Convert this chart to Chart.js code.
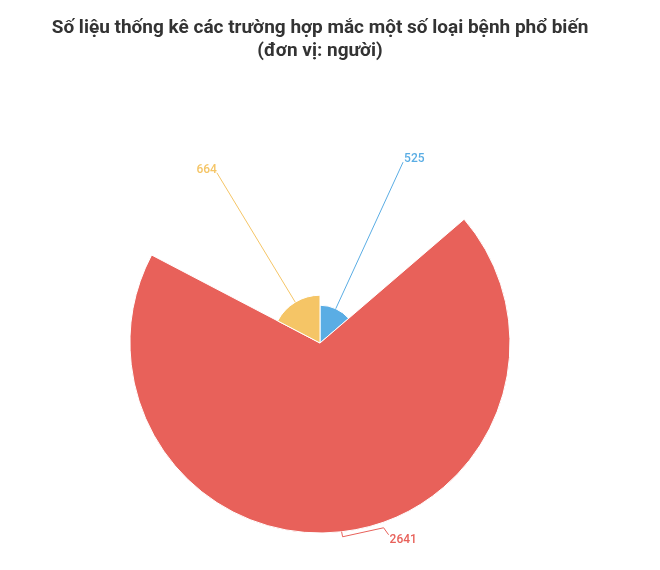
<!DOCTYPE html>
<html>
<head>
<meta charset="utf-8">
<script src="https://cdn.jsdelivr.net/npm/chart.js@4"></script>
<style>
  html, body { margin: 0; padding: 0; background: #fff; }
  #wrap { width: 640px; height: 570px; position: relative; }
</style>
</head>
<body>
<div id="wrap"><canvas id="chart"></canvas></div>
<script>
const categories = ['Loại 1', 'Loại 2', 'Loại 3'];
const cases = [525, 2641, 664];
const sliceColors = ['#5AADE4', '#E8615A', '#F5C566'];
const titleLines = ['Số liệu thống kê các trường hợp mắc một số loại bệnh phổ biến', '(đơn vị: người)'];

const total = cases.reduce((a, b) => a + b, 0);

// value labels with leader lines, drawn from the arc elements
const leaderLabels = {
    id: 'leaderLabels',
    afterDatasetsDraw(chart) {
        const ctx = chart.ctx;
        const meta = chart.getDatasetMeta(0);
        const scale = chart.scales.r;
        const reach = scale.drawingArea + 9;
        ctx.save();
        ctx.font = '500 12px Roboto';
        ctx.lineWidth = 1;
        meta.data.forEach((arc, i) => {
            const mid = (arc.startAngle + arc.endAngle) / 2;
            const cx = arc.x, cy = arc.y;
            const x0 = cx + Math.cos(mid) * arc.outerRadius;
            const y0 = cy + Math.sin(mid) * arc.outerRadius;
            ctx.strokeStyle = sliceColors[i];
            ctx.fillStyle = sliceColors[i];
            ctx.beginPath();
            ctx.moveTo(x0, y0);
            if (reach - arc.outerRadius < 15) {
                // short bent tick for the big slice
                ctx.lineTo(x0 + 1, y0 + 5);
                ctx.lineTo(x0 + 42, y0 - 4);
                ctx.lineTo(x0 + 47, y0 + 3);
                ctx.stroke();
                ctx.textAlign = 'left';
                ctx.textBaseline = 'alphabetic';
                ctx.fillText(cases[i], x0 + 48, y0 + 11);
            } else {
                const x1 = cx + Math.cos(mid) * reach;
                const y1 = cy + Math.sin(mid) * reach;
                ctx.lineTo(x1, y1);
                ctx.stroke();
                ctx.textAlign = x1 >= cx ? 'left' : 'right';
                ctx.textBaseline = 'alphabetic';
                ctx.fillText(cases[i], x1 + (x1 >= cx ? 1 : 0), y1);
            }
        });
        ctx.restore();
    }
};

new Chart(document.getElementById('chart'), {
    type: 'polarArea',
    data: {
        labels: categories,
        datasets: [{
            data: cases,
            backgroundColor: sliceColors,
            borderColor: '#fff',
            borderWidth: 1,
            angle: (c) => cases[c.dataIndex] / total * 360,
        }]
    },
    options: {
        responsive: true,
        maintainAspectRatio: false,
        animation: false,
        layout: {
            padding: { left: 0, right: 0, top: 0, bottom: 37 },
        },
        plugins: {
            legend: { display: false },
            tooltip: { enabled: false },
            title: {
                display: true,
                text: titleLines,
                color: '#333',
                font: { family: 'Roboto', size: 19, weight: 'bold', lineHeight: 1.2 },
                padding: { top: 17, bottom: 90.4 },
            },
        },
        scales: {
            r: {
                display: false,
                min: 0,
                max: Math.max(...cases),
                startAngle: 0,
            },
        },
    },
    plugins: [leaderLabels],
});
</script>
</body>
</html>
